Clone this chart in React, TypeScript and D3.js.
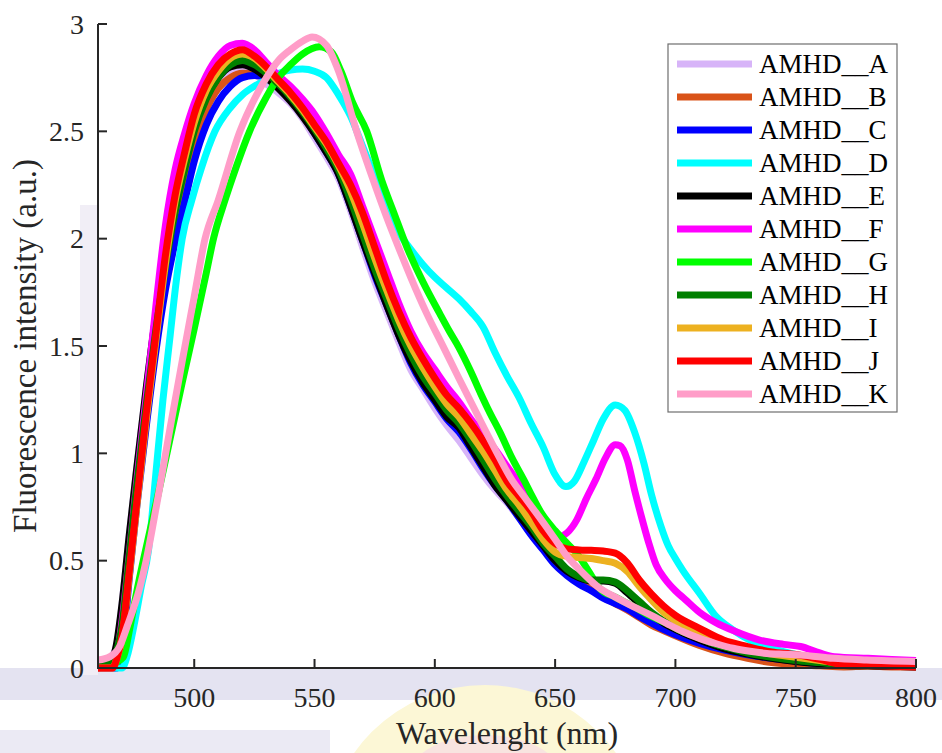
import React from 'react';
import * as d3 from 'd3';

const WIDTH = 942;
const HEIGHT = 753;

const X_DOMAIN: [number, number] = [460, 800];
const Y_DOMAIN: [number, number] = [0, 3];
const X_TICKS = [500, 550, 600, 650, 700, 750, 800];
const Y_TICKS = [0, 0.5, 1, 1.5, 2, 2.5, 3];
const Y_TICK_LABELS = ['0', '0.5', '1', '1.5', '2', '2.5', '3'];
const X_TITLE = 'Wavelenght (nm)';
const Y_TITLE = 'Fluorescence intensity (a.u.)';

const SERIES_NAMES = ['AMHD__A', 'AMHD__B', 'AMHD__C', 'AMHD__D', 'AMHD__E', 'AMHD__F', 'AMHD__G', 'AMHD__H', 'AMHD__I', 'AMHD__J', 'AMHD__K'];
const SERIES_COLORS = ['#D7B4F8', '#D95319', '#0000FF', '#00FFFF', '#000000', '#FF00FF', '#00FF00', '#008000', '#EDB120', '#FF0000', '#FF9DC8'];

const AMHD_A: [number, number][] = [
  [460, 0.03], [464, 0.04], [467, 0.08], [468.5, 0.15], [470, 0.3], [473, 0.62], [476, 0.92], [480, 1.3], [484, 1.64], [488, 1.93], [492, 2.15], [496, 2.35], [500, 2.52], [505, 2.66], [510, 2.74], [515, 2.78], [520, 2.79],
  [525, 2.77], [530, 2.72], [535, 2.68], [540, 2.63], [545, 2.56], [550, 2.47], [555, 2.38], [560, 2.28], [565, 2.13], [570, 1.96], [575, 1.8], [580, 1.66], [585, 1.52], [590, 1.39], [595, 1.3], [600, 1.21], [605, 1.13], [610, 1.06], [615, 0.98], [620, 0.9], [625, 0.83], [630, 0.77], [635, 0.7], [640, 0.63], [645, 0.56], [650, 0.5],
  [655, 0.45], [660, 0.41], [665, 0.37], [670, 0.33], [675, 0.3], [680, 0.27], [685, 0.24], [690, 0.21], [695, 0.185], [700, 0.16], [710, 0.115], [720, 0.085], [730, 0.06], [740, 0.045], [750, 0.03], [760, 0.02], [770, 0.015], [780, 0.012], [790, 0.01], [800, 0.01],
];

const AMHD_B: [number, number][] = [
  [460, 0], [467, 0], [468.5, 0.06], [470, 0.2], [473, 0.5], [476, 0.82], [480, 1.2], [484, 1.52], [488, 1.8], [492, 2.05], [496, 2.25], [500, 2.45], [505, 2.6], [510, 2.7], [515, 2.75], [520, 2.77],
  [525, 2.77], [530, 2.75], [535, 2.71], [540, 2.65], [545, 2.58], [550, 2.5], [555, 2.41], [560, 2.31], [565, 2.17], [570, 2.01], [575, 1.85], [580, 1.71], [585, 1.57], [590, 1.44], [595, 1.34], [600, 1.26], [605, 1.18], [610, 1.12], [615, 1.04], [620, 0.95], [625, 0.86], [630, 0.79], [635, 0.71], [640, 0.64], [645, 0.57], [650, 0.5],
  [655, 0.44], [660, 0.4], [665, 0.365], [670, 0.33], [675, 0.3], [680, 0.27], [685, 0.235], [690, 0.2], [695, 0.175], [700, 0.15], [710, 0.105], [720, 0.07], [730, 0.045], [740, 0.025], [750, 0.015], [760, 0.01], [770, 0.005], [780, 0.008], [790, 0.005], [800, 0.005],
];

const AMHD_C: [number, number][] = [
  [460, 0], [468, 0], [469.5, 0.06], [471, 0.18], [473, 0.42], [476, 0.74], [480, 1.12], [484, 1.47], [488, 1.76], [492, 1.98], [496, 2.17], [500, 2.36], [505, 2.53], [510, 2.64], [515, 2.71], [520, 2.75],
  [525, 2.76], [530, 2.75], [535, 2.72], [540, 2.65], [545, 2.58], [550, 2.49], [555, 2.4], [560, 2.3], [565, 2.15], [570, 1.99], [575, 1.83], [580, 1.69], [585, 1.55], [590, 1.42], [595, 1.32], [600, 1.24], [605, 1.16], [610, 1.1], [615, 1.02], [620, 0.93], [625, 0.85], [630, 0.78], [635, 0.7], [640, 0.62], [645, 0.55], [650, 0.48],
  [655, 0.43], [660, 0.39], [665, 0.36], [670, 0.325], [675, 0.3], [680, 0.275], [685, 0.24], [690, 0.21], [695, 0.18], [700, 0.155], [710, 0.115], [720, 0.085], [730, 0.062], [740, 0.045], [750, 0.032], [760, 0.02], [770, 0.014], [780, 0.012], [790, 0.01], [800, 0.008],
];

const AMHD_D: [number, number][] = [
  [460, 0], [470, 0], [472, 0.05], [475, 0.2], [478, 0.38], [481, 0.55], [484, 0.9], [487, 1.25], [490, 1.55], [492.5, 1.8], [495, 2.0], [499, 2.18], [503, 2.33], [508.6, 2.5], [515, 2.61], [520, 2.67], [525, 2.71], [530, 2.74], [535, 2.77], [540, 2.785], [545, 2.79], [550, 2.78], [555, 2.75], [560, 2.67], [565, 2.57],
  [570, 2.43], [575, 2.29], [580, 2.15], [585, 2.03], [590, 1.95], [595, 1.88], [600, 1.82], [605, 1.77], [610, 1.72], [615, 1.66], [620, 1.59], [625, 1.47], [630, 1.36], [635, 1.26], [640, 1.14], [645, 1.03], [650, 0.9], [654.5, 0.845], [658, 0.87], [662, 0.96], [666, 1.06], [670, 1.16], [675, 1.225], [679, 1.2], [683, 1.1], [687, 0.95], [690, 0.81], [694, 0.66], [697, 0.57], [700, 0.51], [703, 0.456],
  [710, 0.348], [717, 0.239], [724, 0.177], [731, 0.13], [738, 0.099], [745, 0.076], [752, 0.058], [759, 0.045], [770, 0.03], [785, 0.025], [800, 0.022],
];

const AMHD_E: [number, number][] = [
  [460, 0], [465, 0.02], [467.5, 0.1], [470, 0.3], [473, 0.62], [476, 0.92], [480, 1.3], [484, 1.64], [488, 1.93], [492, 2.15], [496, 2.35], [500, 2.52], [505, 2.66], [510, 2.75], [515, 2.8], [520, 2.81],
  [525, 2.79], [530, 2.75], [535, 2.7], [540, 2.64], [545, 2.57], [550, 2.49], [555, 2.4], [560, 2.3], [565, 2.15], [570, 1.99], [575, 1.84], [580, 1.69], [585, 1.55], [590, 1.43], [595, 1.33], [600, 1.25], [605, 1.17], [610, 1.12], [615, 1.03], [620, 0.94], [625, 0.85], [630, 0.78], [635, 0.71], [640, 0.64], [645, 0.57], [650, 0.5],
  [655, 0.45], [660, 0.42], [665, 0.405], [670, 0.405], [675, 0.395], [680, 0.35], [685, 0.3], [690, 0.25], [695, 0.21], [700, 0.18], [710, 0.13], [720, 0.09], [730, 0.065], [740, 0.045], [750, 0.03], [760, 0.02], [770, 0.012], [780, 0.01], [790, 0.008], [800, 0.005],
];

const AMHD_F: [number, number][] = [
  [460, 0], [466, 0], [468, 0.07], [470, 0.22], [473, 0.53], [476, 0.86], [480, 1.26], [484, 1.68], [488, 2.06], [492, 2.32], [496, 2.49], [500, 2.63], [505, 2.76], [510, 2.85], [515, 2.9], [520, 2.91],
  [525, 2.88], [530, 2.82], [535, 2.76], [540, 2.71], [545, 2.65], [550, 2.58], [555, 2.49], [560, 2.39], [565, 2.3], [570, 2.15], [575, 2.0], [580, 1.85], [585, 1.7], [590, 1.57], [595, 1.47], [600, 1.39], [605, 1.31], [610, 1.24], [615, 1.16], [620, 1.09], [625, 1.02], [630, 0.94], [635, 0.86], [640, 0.77], [645, 0.68], [651, 0.61],
  [655, 0.63], [659, 0.69], [663, 0.79], [667, 0.88], [671, 0.98], [675, 1.04], [677, 1.035], [680, 0.97], [683, 0.83], [686, 0.7], [689, 0.58], [692, 0.48], [696, 0.41], [700, 0.36], [704, 0.32], [710, 0.26], [717, 0.21], [725, 0.17], [735, 0.13], [745, 0.11], [752, 0.1], [760, 0.07], [766, 0.053], [780, 0.045], [790, 0.04], [800, 0.035],
];

const AMHD_G: [number, number][] = [
  [460, 0.01], [466, 0.02], [470.5, 0.05], [473.3, 0.19], [476, 0.35], [478.8, 0.5], [482, 0.66], [485, 0.81], [490, 1.07], [495, 1.33], [500, 1.58], [505, 1.84], [508, 2.0], [512.8, 2.18], [517, 2.32], [523, 2.5], [530, 2.66], [535, 2.75], [540, 2.81], [545, 2.86], [552, 2.894], [557, 2.87], [561, 2.78], [566, 2.63],
  [571.7, 2.5], [577.9, 2.273], [583, 2.12], [588.3, 1.963], [595, 1.8], [602, 1.652], [606, 1.57], [609.8, 1.497], [615, 1.38], [619, 1.28], [623, 1.186], [627, 1.1], [632, 0.98], [637, 0.876], [640, 0.81], [644.4, 0.72], [650, 0.64], [655, 0.58], [659, 0.534], [664, 0.45], [668.6, 0.37],
  [675, 0.33], [682, 0.29], [690, 0.24], [696, 0.21], [703, 0.17], [710, 0.14], [717, 0.11], [724, 0.09], [731, 0.075], [738, 0.065], [750, 0.055], [765, 0.04], [780, 0.033], [800, 0.03],
];

const AMHD_H: [number, number][] = [
  [460, 0.01], [465, 0.02], [467.5, 0.07], [470, 0.2], [473, 0.52], [476, 0.84], [480, 1.22], [484, 1.57], [488, 1.87], [492, 2.12], [496, 2.32], [500, 2.5], [505, 2.65], [510, 2.75], [515, 2.81], [520, 2.83],
  [525, 2.81], [530, 2.77], [535, 2.72], [540, 2.66], [545, 2.59], [550, 2.51], [555, 2.42], [560, 2.32], [565, 2.18], [570, 2.02], [575, 1.86], [580, 1.72], [585, 1.58], [590, 1.46], [595, 1.36], [600, 1.28], [605, 1.2], [610, 1.14], [615, 1.06], [620, 0.97], [625, 0.88], [630, 0.8], [635, 0.73], [640, 0.66], [645, 0.58], [650, 0.52],
  [655, 0.46], [660, 0.425], [665, 0.41], [670, 0.41], [675, 0.4], [680, 0.36], [685, 0.31], [690, 0.26], [695, 0.22], [700, 0.19], [710, 0.14], [720, 0.1], [730, 0.07], [740, 0.05], [750, 0.035], [760, 0.025], [770, 0.015], [780, 0.012], [790, 0.01], [800, 0.008],
];

const AMHD_I: [number, number][] = [
  [460, 0], [466, 0], [468, 0.05], [470, 0.14], [473, 0.43], [476, 0.74], [480, 1.15], [484, 1.52], [488, 1.88], [492, 2.17], [496, 2.37], [500, 2.54], [505, 2.69], [510, 2.78], [515, 2.84], [520, 2.86],
  [525, 2.84], [530, 2.79], [535, 2.73], [540, 2.67], [545, 2.6], [550, 2.52], [555, 2.44], [560, 2.34], [565, 2.22], [570, 2.07], [575, 1.91], [580, 1.76], [585, 1.62], [590, 1.5], [595, 1.4], [600, 1.31], [605, 1.23], [610, 1.17], [615, 1.09], [620, 1.01], [625, 0.92], [630, 0.83], [635, 0.76], [640, 0.68], [645, 0.6], [650, 0.54],
  [655, 0.52], [660, 0.515], [665, 0.51], [670, 0.5], [675, 0.488], [680, 0.45], [685, 0.38], [690, 0.317], [695, 0.26], [700, 0.22], [710, 0.16], [720, 0.115], [730, 0.085], [740, 0.065], [750, 0.05], [760, 0.035], [770, 0.02], [780, 0.015], [790, 0.012], [800, 0.01],
];

const AMHD_J: [number, number][] = [
  [460, 0], [466, 0], [468, 0.05], [470, 0.15], [473, 0.45], [476, 0.76], [480, 1.18], [484, 1.55], [488, 1.92], [492, 2.2], [496, 2.4], [500, 2.58], [505, 2.72], [510, 2.81], [515, 2.86], [520, 2.88],
  [525, 2.85], [530, 2.8], [535, 2.74], [540, 2.68], [545, 2.61], [550, 2.53], [555, 2.45], [560, 2.35], [565, 2.25], [570, 2.12], [575, 1.96], [580, 1.8], [585, 1.66], [590, 1.54], [595, 1.44], [600, 1.35], [605, 1.27], [610, 1.21], [615, 1.14], [620, 1.06], [625, 0.97], [630, 0.87], [635, 0.8], [640, 0.73], [645, 0.64], [650, 0.58],
  [655, 0.555], [660, 0.55], [665, 0.548], [670, 0.545], [675, 0.535], [680, 0.49], [685, 0.41], [690, 0.345], [695, 0.29], [700, 0.245], [710, 0.185], [720, 0.13], [730, 0.1], [740, 0.075], [750, 0.063], [760, 0.04], [770, 0.015], [780, 0.012], [790, 0.008], [800, 0.005],
];

const AMHD_K: [number, number][] = [
  [460, 0.037], [465, 0.053], [469, 0.1], [472, 0.19], [477.5, 0.38], [480, 0.5], [485, 0.8], [490, 1.12], [495, 1.43], [500, 1.73], [504.5, 2.0], [510, 2.18], [519, 2.5], [525, 2.65], [530, 2.75], [535, 2.83], [540, 2.88], [545, 2.92], [549, 2.94], [555, 2.9], [560, 2.78], [567.5, 2.5],
  [574.4, 2.273], [580, 2.1], [584.8, 1.963], [590, 1.82], [596.6, 1.652], [603.5, 1.497], [610, 1.35], [617.4, 1.186], [625, 1.02], [632, 0.876], [637, 0.8], [642.3, 0.72], [650, 0.6], [655, 0.52], [660, 0.46], [668.6, 0.371],
  [675, 0.33], [682.5, 0.286], [690, 0.245], [696.3, 0.208], [703, 0.17], [710, 0.138], [717, 0.113], [724, 0.092], [731, 0.078], [738, 0.068], [745, 0.064], [752, 0.061], [765.6, 0.045], [779.5, 0.037], [800, 0.03],
];

const SERIES_DATA = [AMHD_A, AMHD_B, AMHD_C, AMHD_D, AMHD_E, AMHD_F, AMHD_G, AMHD_H, AMHD_I, AMHD_J, AMHD_K];

const FONT = '"Liberation Serif", "Times New Roman", Times, serif';

export default function App() {
  const left = 98, right = 916, top = 24, bottom = 668;
  const x = d3.scaleLinear().domain(X_DOMAIN).range([left, right]);
  const y = d3.scaleLinear().domain(Y_DOMAIN).range([bottom, top]);
  const line = d3
    .line<[number, number]>()
    .x((d) => x(d[0]))
    .y((d) => y(d[1]))
    .curve(d3.curveMonotoneX);

  const axisColor = '#262626';
  const legend = { x: 668, y: 44, w: 229, h: 368, row0: 64, step: 33, lineX0: 677, lineX1: 752, textX: 759 };

  return (
    <svg
      width={WIDTH}
      height={HEIGHT}
      viewBox={`0 0 ${WIDTH} ${HEIGHT}`}
      style={{ position: 'absolute', left: 0, top: 0, display: 'block' }}
    >
      <rect x={0} y={0} width={WIDTH} height={HEIGHT} fill="#ffffff" />
      {/* faint background watermark */}
      <g>
        <rect x={0} y={668} width={WIDTH} height={32} fill="#e4e3f1" />
        <rect x={80} y={205} width={18} height={470} fill="#f1eef6" />
        <rect x={0} y={730} width={330} height={23} fill="#ebeaf4" />
        <circle cx={485} cy={845} r={160} fill="#fcf7d6" />
        <ellipse cx={485} cy={775} rx={75} ry={40} fill="#f8e4e0" />
      </g>
      <rect x={left} y={top} width={right - left} height={bottom - top} fill="#ffffff" />

      {/* series */}
      <g fill="none" strokeLinejoin="round" strokeLinecap="butt">
        {SERIES_DATA.map((data, i) => (
          <path key={SERIES_NAMES[i]} d={line(data) || ''} stroke={SERIES_COLORS[i]} strokeWidth={7} />
        ))}
      </g>

      {/* axes */}
      <g stroke={axisColor} strokeWidth={2} fill="none">
        <line x1={left} y1={top} x2={left} y2={bottom + 1} />
        <line x1={left - 1} y1={bottom} x2={right} y2={bottom} />
        {Y_TICKS.map((t) => (
          <line key={'yt' + t} x1={left} y1={y(t)} x2={left + 9} y2={y(t)} />
        ))}
        {X_TICKS.map((t) => (
          <line key={'xt' + t} x1={x(t)} y1={bottom} x2={x(t)} y2={bottom - 9} />
        ))}
      </g>
      <g fontFamily={FONT} fontSize={28} fill={axisColor}>
        {Y_TICKS.map((t, i) => (
          <text key={'yl' + t} x={left - 14} y={y(t)} dy="0.35em" textAnchor="end">
            {Y_TICK_LABELS[i]}
          </text>
        ))}
        {X_TICKS.map((t) => (
          <text key={'xl' + t} x={x(t)} y={707} textAnchor="middle">
            {String(t)}
          </text>
        ))}
      </g>
      <text x={(left + right) / 2} y={744} textAnchor="middle" fontFamily={FONT} fontSize={32} fill={axisColor}>
        {X_TITLE}
      </text>
      <text
        transform={`translate(36, ${(top + bottom) / 2}) rotate(-90)`}
        textAnchor="middle"
        fontFamily={FONT}
        fontSize={33}
        fill={axisColor}
      >
        {Y_TITLE}
      </text>

      {/* legend */}
      <rect x={legend.x} y={legend.y} width={legend.w} height={legend.h} fill="#ffffff" stroke="#6e6e6e" strokeWidth={1.2} />
      {SERIES_NAMES.map((name, i) => {
        const yy = legend.row0 + i * legend.step;
        return (
          <g key={'lg' + name}>
            <line x1={legend.lineX0} x2={legend.lineX1} y1={yy} y2={yy} stroke={SERIES_COLORS[i]} strokeWidth={7} />
            <text x={legend.textX} y={yy} dy="0.35em" fontFamily={FONT} fontSize={27} fill="#000">
              {name}
            </text>
          </g>
        );
      })}
    </svg>
  );
}
